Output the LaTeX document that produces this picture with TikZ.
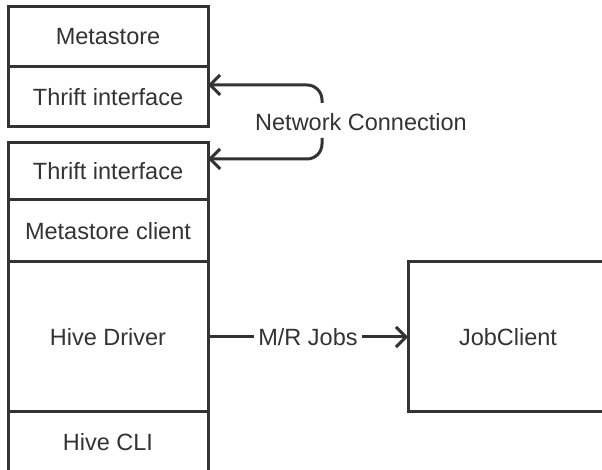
\documentclass[tikz,border=0pt]{standalone}
\usepackage{fontspec}
\setmainfont{Liberation Sans}
\usepackage{tikz}
\usetikzlibrary{arrows.meta,positioning}
\definecolor{stroke}{HTML}{333333}
\definecolor{ink}{HTML}{333333}
\tikzset{
    layer/.style={
        draw=stroke,
        line width=3pt,
        minimum width=200pt,
        outer sep=0pt,
        inner sep=0pt,
        text=ink,
        font=\fontsize{23.5}{28}\selectfont
    },
    link/.style={
        -{Straight Barb[length=10pt,width=20pt]},
        line width=3pt,
        color=stroke
    },
    linklabel/.style={
        text=ink,
        inner sep=4pt,
        font=\fontsize{23.5}{28}\selectfont
    }
}

\begin{document}
\begin{tikzpicture}[x=1pt,y=1pt]

    \useasboundingbox (0,0) rectangle (602,470);

    % Serveur metastore
    \node[layer,minimum height=60pt]
        (meta) at (108,433)
        {Metastore};

    \node[layer,minimum height=60pt,below=0pt of meta]
        (thrifttop)
        {Thrift interface};

    % Pile client
    \node[layer,minimum height=57pt]
        (thriftlow) at (108,298.5)
        {Thrift interface};

    \node[layer,minimum height=62pt,below=0pt of thriftlow]
        (metaclient)
        {Metastore client};

    \node[layer,minimum height=150pt,below=0pt of metaclient]
        (driver)
        {Hive Driver};

    \node[layer,minimum height=60pt,below=0pt of driver]
        (cli)
        {Hive CLI};

    % JobClient
    \node[layer,minimum height=150pt,right=200pt of driver]
        (jobclient)
        {JobClient};

    % Connexion reseau
    \node[linklabel]
        (network) at (361,348)
        {Network Connection};

    \coordinate (nettop) at (322,367);
    \coordinate (netbot) at (322,332);

    \draw[link,rounded corners=15pt]
        (nettop)
        |- ([yshift=12pt]thrifttop.east);

    \draw[link,rounded corners=15pt]
        (netbot)
        |- ([yshift=12.5pt]thriftlow.east);

    % Jobs M/R
    \draw[link]
        (driver)
        -- node[linklabel,fill=white] {M/R Jobs}
        (jobclient);

\end{tikzpicture}
\end{document}
